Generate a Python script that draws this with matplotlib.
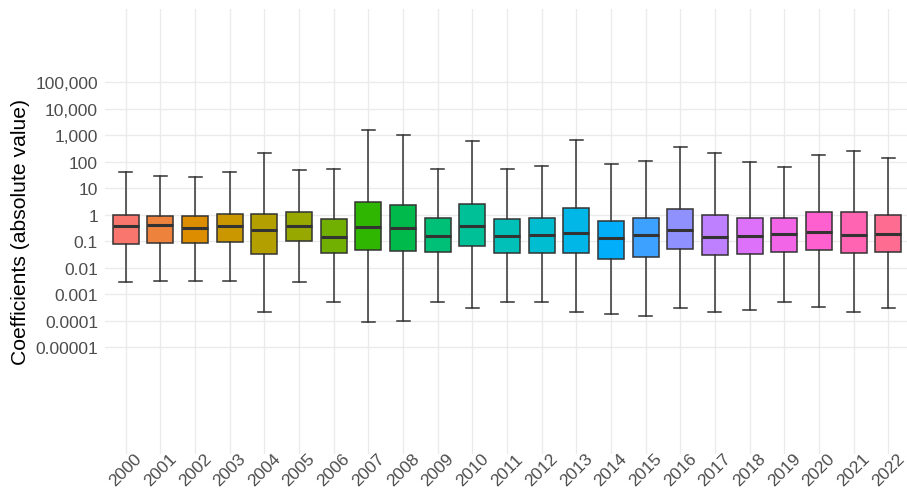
import numpy as np
import matplotlib
matplotlib.use("Agg")
import matplotlib.pyplot as plt
from matplotlib.ticker import FixedLocator, FixedFormatter
from matplotlib.transforms import ScaledTranslation

# per-year box statistics (log scale)
years = [str(y) for y in range(2000, 2023)]
whisker_hi = [40, 30, 28, 40, 224, 49, 54, 1600, 1020, 53, 600, 53, 69, 675,
              87, 112, 357, 224, 97, 66, 184, 268, 142]
q3 = [0.97, 0.94, 0.89, 1.12, 1.12, 1.26, 0.71, 3.2, 2.45, 0.77, 2.6, 0.69,
      0.77, 1.84, 0.61, 0.77, 1.73, 1.03, 0.79, 0.77, 1.33, 1.33, 1.03]
median = [0.37, 0.41, 0.33, 0.37, 0.26, 0.38, 0.148, 0.34, 0.31, 0.157, 0.37,
          0.16, 0.176, 0.215, 0.132, 0.18, 0.27, 0.152, 0.16, 0.187, 0.235,
          0.176, 0.197]
q1 = [0.083, 0.088, 0.088, 0.098, 0.034, 0.107, 0.038, 0.048, 0.043, 0.039,
      0.070, 0.036, 0.038, 0.036, 0.021, 0.025, 0.051, 0.031, 0.033, 0.041,
      0.048, 0.038, 0.039]
whisker_lo = [0.0029, 0.0031, 0.0031, 0.0031, 0.00021, 0.0029, 0.00052,
              0.000094, 0.000102, 0.00052, 0.00031, 0.00052, 0.00052, 0.00021,
              0.00018, 0.000155, 0.00031, 0.00021, 0.00027, 0.00052, 0.00035,
              0.00021, 0.00031]

ytick_vals = [1e-5, 1e-4, 1e-3, 1e-2, 1e-1, 1, 10, 100, 1000, 1e4, 1e5]
ytick_labels = ["0.00001", "0.0001", "0.001", "0.01", "0.1", "1", "10", "100",
                "1,000", "10,000", "100,000"]


def hue_pal(n, l=65, c=100):
    # ggplot2 default discrete palette (polar Luv -> sRGB)
    hues = np.linspace(15, 375, n + 1)[:n]
    un, vn = 0.1978398, 0.4683363
    out = []
    for h in hues:
        u = c * np.cos(np.radians(h))
        v = c * np.sin(np.radians(h))
        Y = ((l + 16) / 116) ** 3
        up = u / (13 * l) + un
        vp = v / (13 * l) + vn
        X = Y * 9 * up / (4 * vp)
        Z = Y * (12 - 3 * up - 20 * vp) / (4 * vp)
        M = np.array([[3.2404542, -1.5371385, -0.4985314],
                      [-0.9692660, 1.8760108, 0.0415560],
                      [0.0556434, -0.2040259, 1.0572252]])
        rgb = M @ np.array([X, Y, Z])
        rgb = np.where(rgb <= 0.0031308, 12.92 * rgb,
                       1.055 * np.clip(rgb, 0, None) ** (1 / 2.4) - 0.055)
        out.append(tuple(np.clip(rgb, 0, 1)))
    return out


plt.rcParams["font.family"] = ["Liberation Sans", "DejaVu Sans"]

W, H = 907, 489
fig = plt.figure(figsize=(W / 100, H / 100), dpi=100)
left, right, top, bottom = 105, 907, 10, 455
ax = fig.add_axes([left / W, 1 - bottom / H, (right - left) / W, (bottom - top) / H])

stats = []
for i, yr in enumerate(years):
    stats.append(dict(label=yr, whislo=whisker_lo[i], q1=q1[i], med=median[i],
                      q3=q3[i], whishi=whisker_hi[i], fliers=[]))

edge = "#333333"
bp = ax.bxp(stats, positions=range(len(years)), widths=0.75, capwidths=0.375,
            patch_artist=True, showfliers=False,
            boxprops=dict(edgecolor=edge, linewidth=1.1),
            medianprops=dict(color=edge, linewidth=2.2, solid_capstyle="butt"),
            whiskerprops=dict(color=edge, linewidth=1.1),
            capprops=dict(color=edge, linewidth=1.1))
for patch, col in zip(bp["boxes"], hue_pal(len(years))):
    patch.set_facecolor(col)

ax.set_yscale("log")
ax.set_ylim(10 ** -9.02, 10 ** 7.77)
ax.set_xlim(-0.6, 22.54)
ax.yaxis.set_major_locator(FixedLocator(ytick_vals))
ax.yaxis.set_major_formatter(FixedFormatter(ytick_labels))
ax.yaxis.set_minor_locator(FixedLocator([]))
ax.set_xticks(range(len(years)))
ax.set_xticklabels(years, rotation=45, ha="center", va="center",
                   rotation_mode="anchor")
shift = ScaledTranslation(4 / 100, 0, fig.dpi_scale_trans)
for lab in ax.get_xticklabels():
    lab.set_transform(lab.get_transform() + shift)

ax.grid(True, color="#EBEBEB", linewidth=1.0)
ax.set_axisbelow(True)
for s in ax.spines.values():
    s.set_visible(False)
ax.tick_params(axis="both", length=0, labelsize=12.5, labelcolor="#4D4D4D")
ax.tick_params(axis="x", pad=11)
ax.tick_params(axis="y", pad=5)
ax.set_ylabel("Coefficients (absolute value)", fontsize=15.2, color="black",
              labelpad=4)

fig.savefig("out.png", dpi=100)
